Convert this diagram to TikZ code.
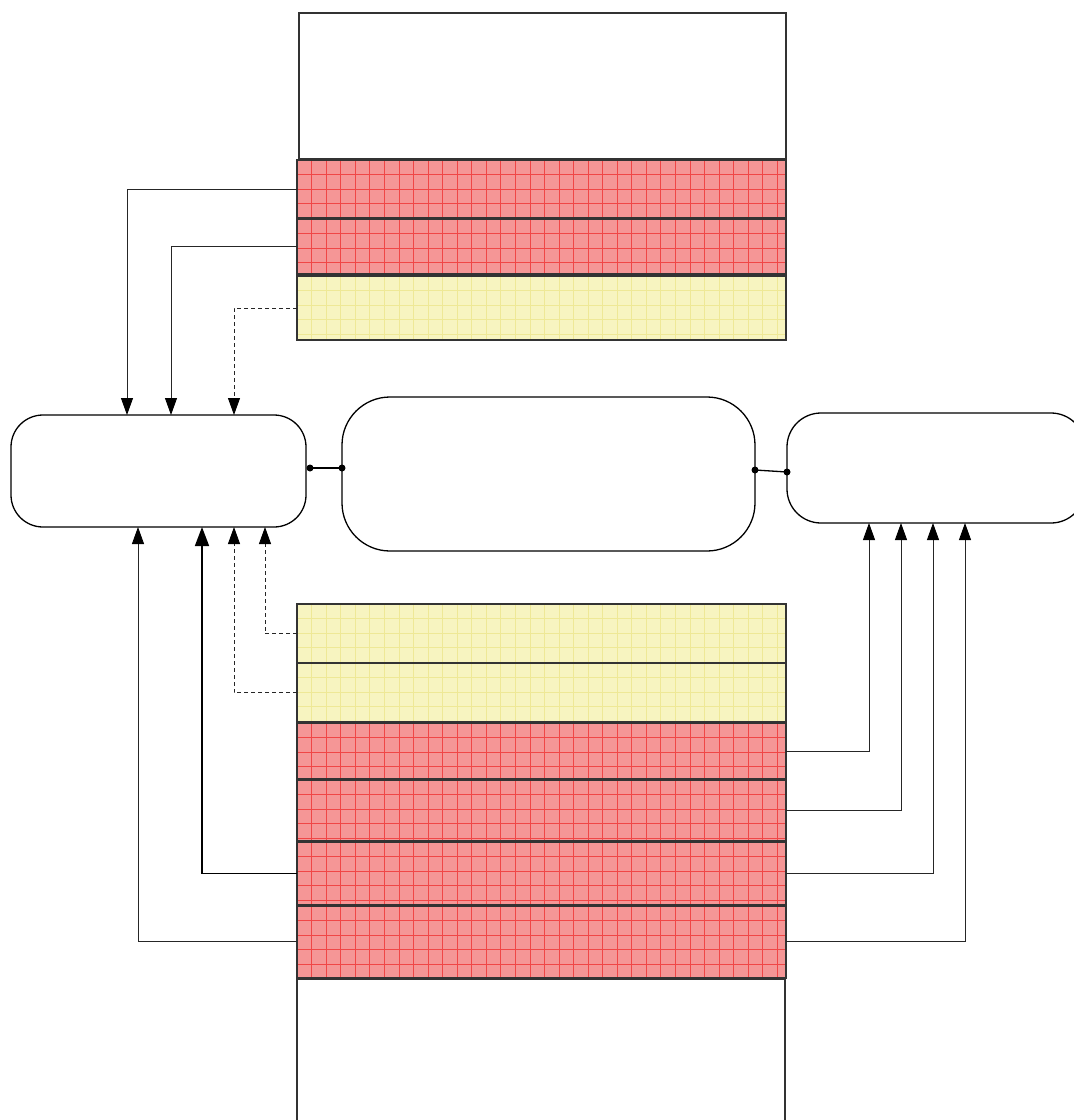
\documentclass[tikz,border=0pt]{standalone}
\usetikzlibrary{arrows.meta,calc}
\definecolor{redfill}{RGB}{245,150,150}
\definecolor{redline}{RGB}{240,70,70}
\definecolor{yelfill}{RGB}{247,244,192}
\definecolor{yelline}{RGB}{238,232,150}
\tikzset{
  plainbox/.style={draw=black!80, line width=1.1pt, fill=white, anchor=north west, inner sep=0pt, outer sep=0pt},
  gridbox/.style 2 args={draw=black!80, line width=1.1pt, fill=#1, anchor=north west, inner sep=0pt, outer sep=0pt,
    path picture={
      \foreach \i in {1,...,34}{
        \draw[#2, line width=0.6pt] ([xshift=\i*14.55pt]path picture bounding box.north west) -- ([xshift=\i*14.55pt]path picture bounding box.south west);
      }
      \foreach \j in {1,...,5}{
        \draw[#2, line width=0.6pt] ([yshift=-\j*14.55pt]path picture bounding box.north west) -- ([yshift=-\j*14.55pt]path picture bounding box.north east);
      }
    }},
  redbox/.style={gridbox={redfill}{redline}},
  yelbox/.style={gridbox={yelfill}{yelline}},
  rbox/.style={draw=black, line width=1.3pt, fill=white, anchor=north west, inner sep=0pt, outer sep=0pt},
  conn/.style={draw=black!85, line width=0.9pt, -{Triangle[width=12pt,length=17pt,color=black,fill=black]}},
  thickconn/.style={draw=black, line width=1.6pt, -{Triangle[width=14pt,length=19pt]}},
  dconn/.style={conn, dash pattern=on 4pt off 3pt},
  link/.style={draw=black, line width=1.3pt},
  dot/.style={circle, fill=black, inner sep=0pt, minimum size=7pt}
}
\begin{document}
\begin{tikzpicture}[x=1pt,y=-1pt]
\useasboundingbox (0,0) rectangle (1074,1120);

% top stack
\node[plainbox, minimum width=487pt, minimum height=146pt] (top) at (299,13) {};
\node[redbox, minimum width=489pt, minimum height=58pt] (t1) at (297,160) {};
\node[redbox, minimum width=489pt, minimum height=55pt] (t2) at (297,219) {};
\node[yelbox, minimum width=489pt, minimum height=64pt] (t3) at (297,276) {};

% bottom stack
\node[yelbox, minimum width=489pt, minimum height=59pt] (b1) at (297,604) {};
\node[yelbox, minimum width=489pt, minimum height=59pt] (b2) at (297,663) {};
\node[redbox, minimum width=489pt, minimum height=56pt] (b3) at (297,723) {};
\node[redbox, minimum width=489pt, minimum height=61pt] (b4) at (297,780) {};
\node[redbox, minimum width=489pt, minimum height=63pt] (b5) at (297,842) {};
\node[redbox, minimum width=489pt, minimum height=72pt] (b6) at (297,906) {};
\node[plainbox, minimum width=488pt, minimum height=160pt] (bottom) at (297,979) {};

% rounded boxes
\node[rbox, rounded corners=32pt, minimum width=295pt, minimum height=112pt] (L) at (11,415) {};
\node[rbox, rounded corners=48pt, minimum width=413pt, minimum height=154pt] (M) at (342,397) {};
\node[rbox, rounded corners=34pt, minimum width=298pt, minimum height=110pt] (R) at (787,413) {};

% links with dots
\node[dot] (d1) at (310,468) {};
\node[dot] (d2) at (342,468) {};
\node[dot] (d3) at (755,470) {};
\node[dot] (d4) at (787,472) {};
\draw[link] (d1.center) -- (d2.center);
\draw[link] (d3.center) -- (d4.center);

% top connectors
\draw[conn] (t1.west) -| ([xshift=116pt]L.north west);
\draw[conn] (t2.west) -| ([xshift=160pt]L.north west);
\draw[dconn] (t3.west) -| ([xshift=223pt]L.north west);

% bottom-left connectors
\draw[dconn] (b1.west) -| ([xshift=254pt]L.south west);
\draw[dconn] (b2.west) -| ([xshift=223pt]L.south west);
\draw[thickconn] (b5.west) -| ([xshift=191pt]L.south west);
\draw[conn] ([yshift=1pt]b6.west) -| ([xshift=127pt]L.south west);

% bottom-right connectors
\draw[conn] ([yshift=-0.5pt]b3.east) -| ([xshift=82pt]R.south west);
\draw[conn] (b4.east) -| ([xshift=114pt]R.south west);
\draw[conn] (b5.east) -| ([xshift=146pt]R.south west);
\draw[conn] ([yshift=1pt]b6.east) -| ([xshift=178pt]R.south west);
\end{tikzpicture}
\end{document}
